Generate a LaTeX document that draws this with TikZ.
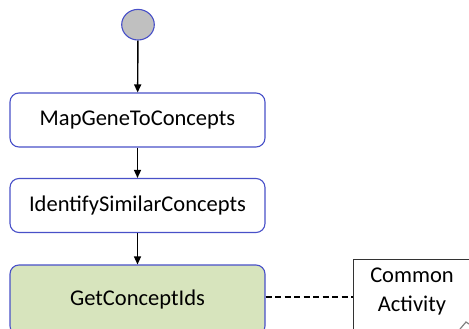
\documentclass[tikz,border=0pt]{standalone}
\usepackage{fontspec}
\setmainfont{Carlito}
\usetikzlibrary{arrows.meta,shapes.geometric}
\definecolor{bord}{RGB}{72,80,200}
\definecolor{gfill}{RGB}{215,228,189}
\definecolor{cfill}{RGB}{192,192,192}
\tikzset{
  act/.style={draw=bord, line width=1.1pt, rounded corners=9pt, minimum width=255pt, minimum height=54pt, inner sep=0pt, font=\fontsize{22.5}{28}\selectfont},
  flow/.style={draw=black, line width=1.4pt, -{Triangle[length=8pt,width=7pt]}},
  link/.style={draw=black, line width=2.2pt, dash pattern=on 6pt off 3.5pt}
}
\begin{document}
\begin{tikzpicture}[x=1pt,y=-1pt]
\clip (0,0) rectangle (469,329);
\node[draw=bord, line width=1.1pt, fill=cfill, ellipse, minimum width=32.6pt, minimum height=30.6pt, inner sep=0pt] (start) at (138,24.7) {};
\node[act] (b1) at (137.5,120) {MapGeneToConcepts};
\node[act] (b2) at (137.5,205.5) {IdentifySimilarConcepts};
\node[act, fill=gfill, minimum height=70pt] (b3) at (137.5,300) {GetConceptIds};
\node[draw=black!80, line width=0.9pt, minimum width=140pt, minimum height=95pt, inner sep=0pt, anchor=north west] (note) at (353,259) {};
\node[align=center, font=\fontsize{22.5}{29}\selectfont, inner sep=0pt] (notetext) at (412,292) {Common\\Activity};
\draw[flow] (start) -- (b1);
\draw[flow] (b1) -- (b2);
\draw[flow] (b2) -- (b3);
\draw[link] ([yshift=3pt]b3.east) -- ([yshift=3pt]b3.east -| note.west);
\draw[gray, line width=1.2pt] (460,329) -- (466,322) -- (469,324);
\end{tikzpicture}
\end{document}
